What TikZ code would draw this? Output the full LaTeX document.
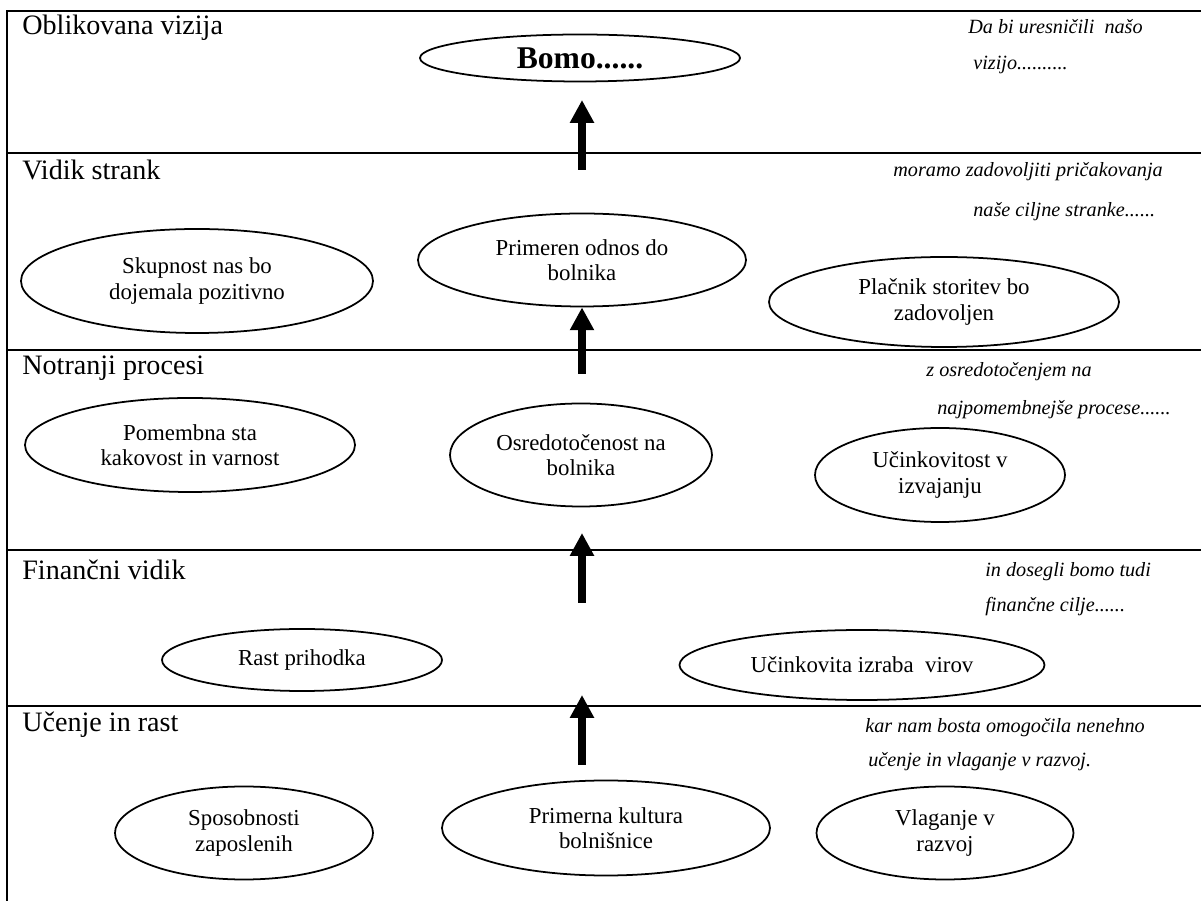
\documentclass[tikz,border=0pt]{standalone}
\usepackage{fontspec}
\setmainfont{Liberation Serif}
\usetikzlibrary{arrows.meta}
\usetikzlibrary{shapes.geometric}

\begin{document}
\begin{tikzpicture}[x=0.02cm, y=-0.02cm,
    oval/.style={draw, ellipse, line width=1pt, inner sep=0pt, align=center,
        font=\fontsize{13}{14.5}\selectfont},
    ovalsize/.style 2 args={minimum width=#1*0.02cm, minimum height=#2*0.02cm},
    heading/.style={anchor=west, inner sep=0pt, font=\fontsize{16}{19}\selectfont},
    note/.style={anchor=west, inner sep=0pt, font=\fontsize{11.5}{14}\selectfont\itshape},
    divider/.style={line width=1.5pt},
    uparrow/.style={line width=4.5pt, -{Triangle[width=13pt,length=13pt]}}]

    \useasboundingbox (0,0) rectangle (1201,901);

    % frame and rows
    \draw[divider] (7,901) -- (7,11) -- (1201,11);
    \foreach \y in {153,350,550,706}
        \draw[divider] (7,\y) -- (1201,\y);

    % row titles
    \node[heading] (vizija) at (22,28) {Oblikovana vizija};
    \node[heading] (strank) at (22,170) {Vidik strank};
    \node[heading] (procesi) at (22,368) {Notranji procesi};
    \node[heading] (financni) at (22,570) {Finančni vidik};
    \node[heading] (ucenje) at (22,725) {Učenje in rast};

    % notes on the right
    \node[note] (noteA1) at (968,27) {Da bi uresničili~ našo};
    \node[note] (noteA2) at (973,65) {vizijo..........};
    \node[note] (noteB1) at (893,172) {moramo zadovoljiti pričakovanja};
    \node[note] (noteB2) at (973,212) {naše ciljne stranke......};
    \node[note] (noteC1) at (926,372) {z osredotočenjem na};
    \node[note] (noteC2) at (937,410) {najpomembnejše procese......};
    \node[note] (noteD1) at (985,572) {in dosegli bomo tudi};
    \node[note] (noteD2) at (985,607) {finančne cilje......};
    \node[note] (noteE1) at (865,728) {kar nam bosta omogočila nenehno};
    \node[note] (noteE2) at (868,762) {učenje in vlaganje v razvoj.};

    % ellipses
    \node[oval, ovalsize={320}{47}, font=\fontsize{18}{21}\selectfont\bfseries] (bomo) at (580,58) {Bomo......};

    \node[oval, ovalsize={352}{104}] (skupnost) at (197,281) {Skupnost nas bo\\dojemala pozitivno};
    \node[oval, ovalsize={328}{93}] (odnos) at (582,260) {Primeren odnos do\\bolnika};
    \node[oval, ovalsize={350}{90}] (placnik) at (944,302) {Plačnik storitev bo\\zadovoljen};

    \node[oval, ovalsize={330}{94}] (pomembna) at (190,445) {Pomembna sta\\kakovost in varnost};
    \node[oval, ovalsize={262}{103}] (osredotocenost) at (581,455) {Osredotočenost na\\bolnika};
    \node[oval, ovalsize={250}{94}] (ucinkovitost) at (940,475) {Učinkovitost v\\izvajanju};

    \node[oval, ovalsize={280}{62}] (rast) at (302,660) {Rast prihodka};
    \node[oval, ovalsize={365}{70}] (izraba) at (862,665) {Učinkovita izraba~ virov};

    \node[oval, ovalsize={258}{93}] (sposobnosti) at (244,833) {Sposobnosti\\zaposlenih};
    \node[oval, ovalsize={328}{95}] (kultura) at (606,828) {Primerna kultura\\bolnišnice};
    \node[oval, ovalsize={257}{93}] (vlaganje) at (945,833) {Vlaganje v\\razvoj};

    % arrows
    \coordinate (a1) at (582,170);
    \coordinate (t1) at (582,100);
    \coordinate (a2) at (582,374);
    \coordinate (a3) at (582,603);
    \coordinate (t3) at (582,533);
    \coordinate (a4) at (582,765);
    \coordinate (t4) at (582,695);
    \draw[uparrow] (a1) -- (t1);
    \draw[uparrow] (a2) -- (odnos.south);
    \draw[uparrow] (a3) -- (t3);
    \draw[uparrow] (a4) -- (t4);
\end{tikzpicture}
\end{document}
